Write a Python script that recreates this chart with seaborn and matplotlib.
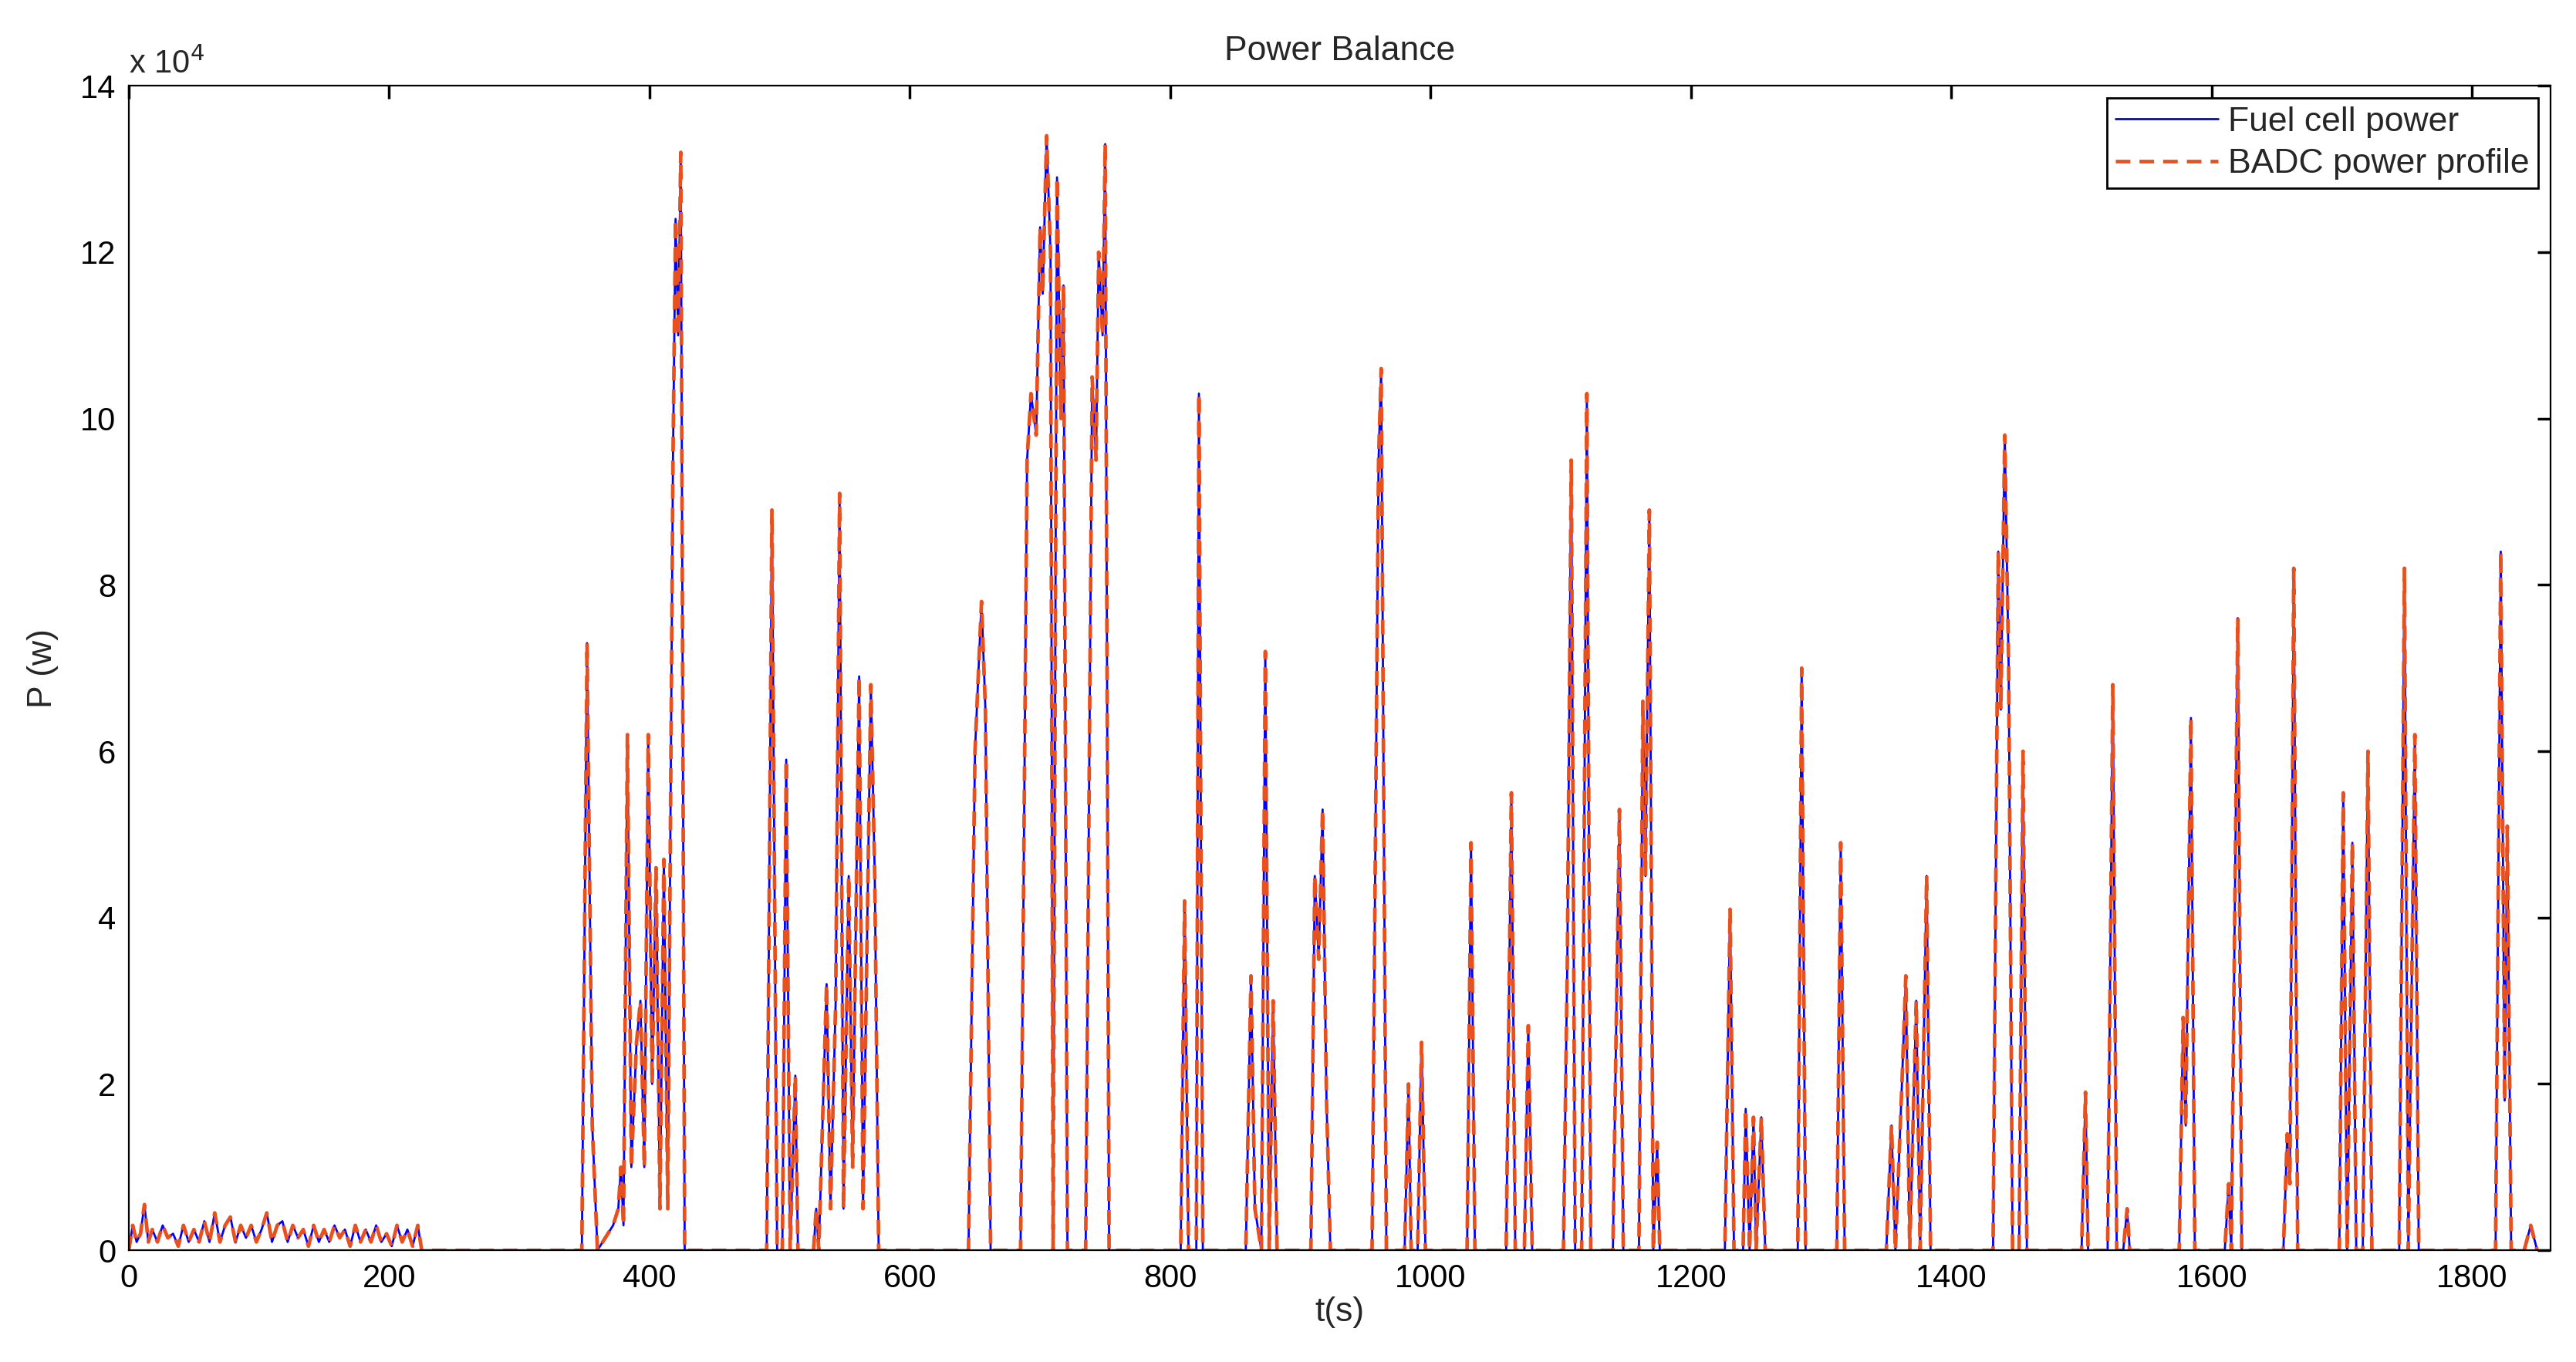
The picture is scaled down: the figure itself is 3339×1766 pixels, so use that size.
import matplotlib
matplotlib.use("Agg")
import matplotlib.pyplot as plt
import seaborn as sns
import pandas as pd
import numpy as np

sns.set_theme(style="white")
plt.rcParams['font.family'] = ['Liberation Sans', 'DejaVu Sans']

# (time s, power in units of 1e4 W)
samples = [
(0,0),(3,0.3),(6,0.1),(9,0.2),(12,0.55),(15,0.1),(18,0.25),(22,0.1),(26,0.3),(30,0.15),(34,0.2),(38,0.05),(42,0.3),(46,0.1),
(50,0.25),(54,0.1),(58,0.35),(62,0.1),(66,0.45),(70,0.1),(74,0.3),(78,0.4),(82,0.1),(86,0.3),(90,0.15),(94,0.3),(98,0.1),
(102,0.25),(106,0.45),(110,0.1),(114,0.3),(118,0.35),(122,0.1),(126,0.3),(130,0.15),(134,0.25),(138,0.05),(142,0.3),(146,0.1),
(150,0.25),(154,0.1),(158,0.3),(162,0.15),(166,0.25),(170,0.05),(174,0.3),(178,0.1),(182,0.25),(186,0.1),(190,0.3),(194,0.1),
(198,0.2),(202,0.05),(206,0.3),(210,0.1),(214,0.25),(218,0.05),(222,0.3),(225,0),
(348,0),(352,7.3),(356,1.5),(360,0),(372,0.3),(376,0.5),(378,1.0),(380,0.3),(383,6.2),(386,1.0),(390,2.5),(393,3.0),(396,1.0),
(399,6.2),(402,2.0),(405,4.6),(408,0.5),(411,4.7),(414,0.5),(418,9.5),(420,12.4),(422,11.0),(424,13.2),(427,0),
(490,0),(494,8.9),(498,0),(502,0),(505,5.9),(508,0),(512,2.1),(514,0),(526,0),(528,0.5),(530,0),(536,3.2),(539,0.5),(543,3.0),
(546,9.1),(549,0.5),(553,4.5),(556,1.0),(561,6.9),(564,0.5),(570,6.8),(573,4.5),(576,0),
(645,0),(650,6.0),(655,7.8),(658,6.5),(662,0),(685,0),(690,9.5),(693,10.3),(697,9.8),(700,12.3),(702,11.5),(705,13.4),(708,12.0),
(710,0),(713,12.9),(716,10.0),(718,11.6),(721,0),(735,0),(740,10.5),(743,9.5),(745,12.0),(748,11.0),(750,13.3),(753,0),
(808,0),(811,4.2),(814,0),(820,0),(822,10.3),(825,0),(858,0),(862,3.3),(865,0.5),(870,0),(873,7.2),(876,0),(879,3.0),(882,0),
(908,0),(911,4.5),(914,3.5),(917,5.3),(920,1.8),(923,0),(955,0),(960,9.5),(962,10.6),(966,0),(980,0),(983,2.0),(985,0),
(990,0),(993,2.5),(996,0),(1028,0),(1031,4.9),(1034,0),(1058,0),(1062,5.5),(1065,0),(1072,0),(1075,2.7),(1078,0),
(1102,0),(1105,3.5),(1108,9.5),(1111,0),(1116,0),(1120,10.3),(1123,0),(1140,0),(1145,5.3),(1148,0),(1160,0),(1163,6.6),
(1165,4.5),(1168,8.9),(1171,0),(1174,1.3),(1176,0),(1226,0),(1230,4.1),(1233,0),(1240,0),(1242,1.7),(1245,0),(1248,1.6),
(1250,0),(1254,1.6),(1257,0),(1282,0),(1285,7.0),(1288,0),(1312,0),(1315,4.9),(1318,0),(1350,0),(1354,1.5),(1357,0),
(1362,2.0),(1365,3.3),(1368,0),(1373,3.0),(1376,0),(1381,4.5),(1384,0),(1432,0),(1436,8.4),(1438,6.5),(1441,9.8),(1444,7.0),
(1447,0),(1452,0),(1455,6.0),(1458,0),(1500,0),(1503,1.9),(1505,0),(1520,0),(1524,6.8),(1527,0),(1532,0),(1535,0.5),(1537,0),
(1575,0),(1578,2.8),(1580,1.5),(1584,6.4),(1587,0),(1610,0),(1613,0.8),(1615,0),(1620,7.6),(1623,0),(1655,0),(1658,1.4),
(1660,0.8),(1663,8.2),(1666,0),(1698,0),(1701,5.5),(1704,0),(1708,4.9),(1711,0),(1716,0),(1720,6.0),(1723,0),(1744,0),
(1748,8.2),(1751,0),(1756,6.2),(1759,0),(1818,0),(1822,8.4),(1825,1.8),(1827,5.1),(1830,0),(1840,0),(1845,0.3),(1850,0),
]
time_s = [a for a, b in samples]
power = [b * 1e4 for a, b in samples]
df = pd.DataFrame({"t": time_s, "P": power})

fig = plt.figure(figsize=(16.695, 8.83), dpi=200)
ax = fig.add_axes([0.050, 0.082, 0.940, 0.855])
sns.lineplot(data=df, x="t", y="P", ax=ax, color="#0000FF", lw=1.0, label="Fuel cell power")
sns.lineplot(data=df, x="t", y="P", ax=ax, color="#E8501E", lw=1.7, label="BADC power profile")
ax.lines[1].set_dashes([4, 2.5])

ax.set_xlim(0, 1860)
ax.set_ylim(0, 14e4)
ax.set_xticks(range(0, 1801, 200))
ax.set_yticks(np.arange(0, 14.1e4, 2e4))
ax.set_yticklabels([str(v) for v in range(0, 15, 2)])
ax.tick_params(direction="in", top=True, right=True, length=6, labelsize=15, colors="black", pad=6)
for s in ax.spines.values():
    s.set_color("black"); s.set_linewidth(0.8)
ax.set_xlabel("t(s)", fontsize=16, labelpad=1)
ax.set_ylabel("P (w)", fontsize=16, labelpad=10)
ax.set_title("Power Balance", fontsize=16, pad=12)
ax.text(0, 1.005, r"x 10$^4$", transform=ax.transAxes, fontsize=15, va="bottom")
leg = ax.legend(loc="upper right", fontsize=16, fancybox=False, framealpha=1,
                edgecolor="black", borderpad=0.25, handlelength=3, borderaxespad=0.35,
                labelspacing=0.3, handletextpad=0.3)
fig.savefig("out.png", dpi=200)
